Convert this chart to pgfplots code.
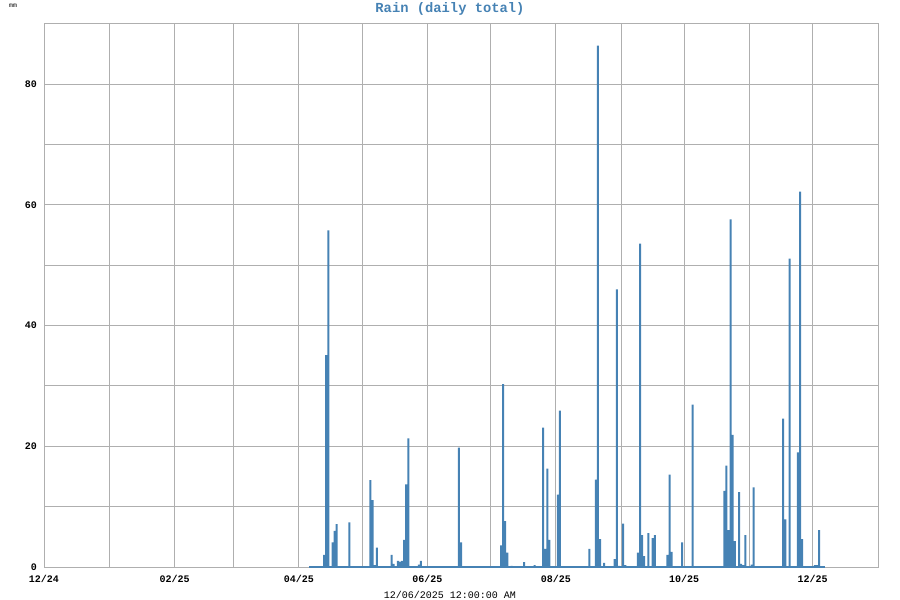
\documentclass[border=0pt]{standalone}
\usepackage{pgfplots}
\pgfplotsset{compat=1.18}
\usepackage{fontspec}
\setmainfont{Liberation Mono}
\definecolor{steel}{RGB}{70,130,180}
\definecolor{gridg}{RGB}{175,175,175}
\begin{document}
\begin{tikzpicture}
\begin{axis}[
  scale only axis,
  width=417pt, height=271.5pt,
  xmin=0, xmax=396, ymin=0, ymax=90,
  xtick={0,62,121,182,243,304,365},
  xticklabels={12/24,02/25,04/25,06/25,08/25,10/25,12/25},
  minor xtick={31,90,151,212,274,335},
  ytick={0,20,40,60,80},
  minor ytick={10,30,50,70},
  grid=both,
  major grid style={gridg, line width=0.5pt},
  minor grid style={gridg, line width=0.5pt},
  axis line style={gridg, line width=0.5pt},
  major tick length=0pt, minor tick length=0pt,
  /pgf/number format/assume math mode=true,
  tick label style={font=\fontsize{5}{5.5}\selectfont\bfseries},
  xticklabel style={yshift=-0.5pt},
  xlabel={12/06/2025 12:00:00 AM},
  xlabel style={font=\fontsize{5}{6}\selectfont, yshift=2.5pt, xshift=-5.5pt},
  clip=false,
]
\addplot[steel, line width=0.6pt] coordinates {(126,0) (371,0)};
\addplot[ybar, bar shift=0pt, bar width=0.95, fill=steel, draw=none] table {
x y
133 2.0
134 35.1
135 55.8
137 4.1
138 6.0
139 7.1
145 7.4
155 14.4
156 11.1
157 0.3
158 3.2
165 2.0
166 0.5
168 1.0
169 0.9
170 1.0
171 4.5
172 13.7
173 21.3
178 0.4
179 1.0
197 19.8
198 4.1
217 3.6
218 30.3
219 7.6
220 2.4
222 0.2
228 0.8
233 0.3
237 23.1
238 3.0
239 16.3
240 4.5
244 12.0
245 25.9
259 3.0
262 14.5
263 86.4
264 4.6
266 0.7
271 1.3
272 46.0
273 0.2
275 7.2
276 0.3
282 2.4
283 53.6
284 5.3
285 1.8
287 5.6
289 4.8
290 5.3
296 2.0
297 15.3
298 2.5
303 4.1
308 26.9
323 12.6
324 16.8
325 6.1
326 57.6
327 21.9
328 4.3
330 12.4
331 0.5
332 0.3
333 5.3
336 0.4
337 13.2
351 24.6
352 7.9
354 51.1
358 19.0
359 62.2
360 4.6
366 0.3
367 0.3
368 6.1
};
\coordinate (bl) at (rel axis cs:0,0);
\coordinate (tr) at (rel axis cs:1,1);
\node[font=\fontsize{6.9}{8}\selectfont\bfseries, text=steel] at ([xshift=-5.5pt,yshift=7.5pt]rel axis cs:0.5,1) {Rain (daily total)};
\node[font=\fontsize{3.2}{3.5}\selectfont] at ([xshift=-15.5pt,yshift=9pt]rel axis cs:0,1) {mm};
\end{axis}
\pgfresetboundingbox
\path ([xshift=-22pt,yshift=-16.5pt]bl) rectangle ([xshift=11pt,yshift=12pt]tr);
\end{tikzpicture}
\end{document}
